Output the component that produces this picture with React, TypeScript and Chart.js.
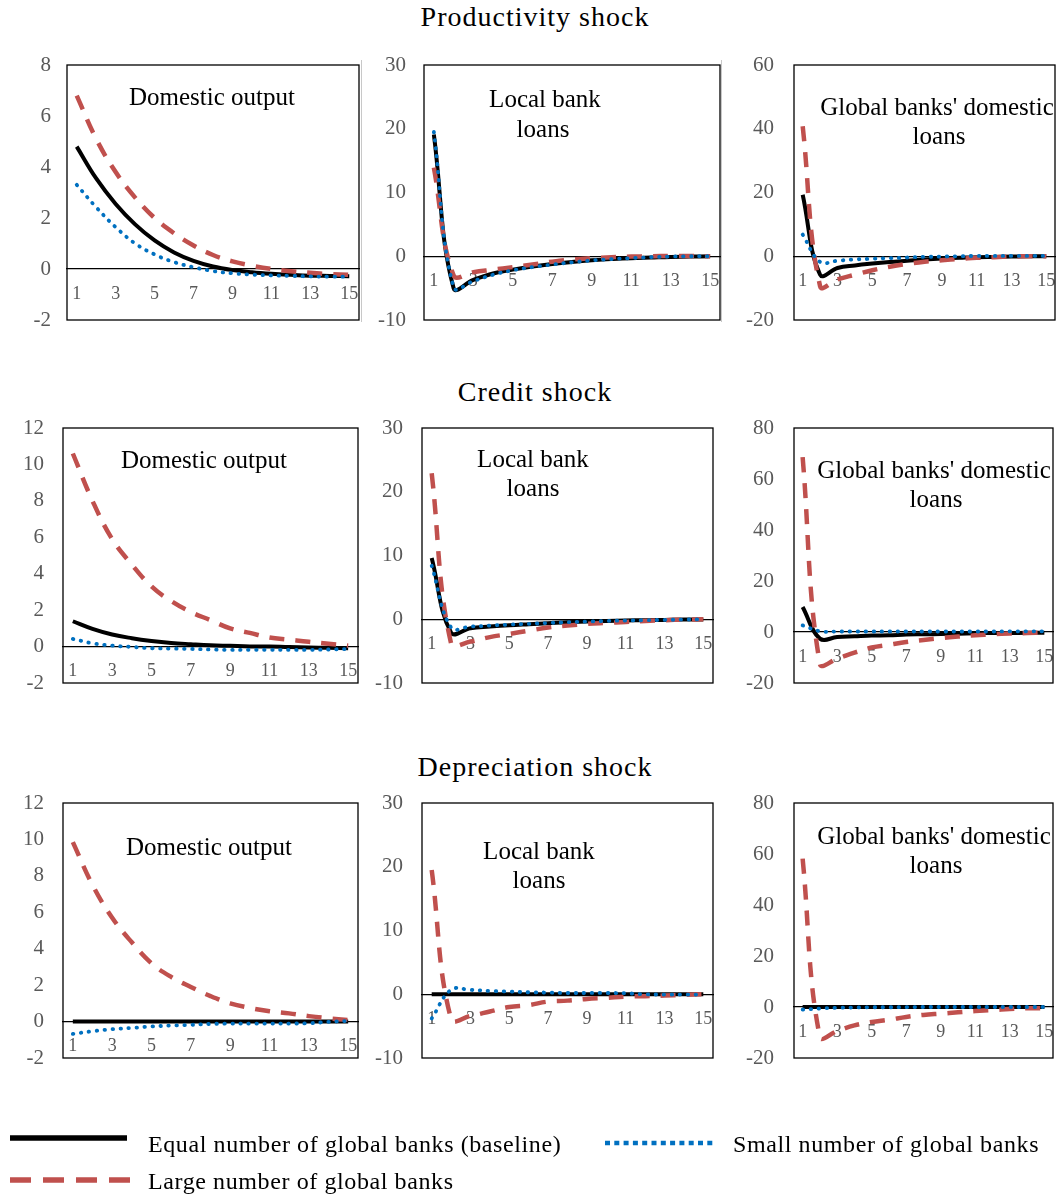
import React, { useEffect, useRef } from "react";
import { Chart, registerables } from "chart.js";

Chart.register(...registerables);

const SERIF = "'Liberation Serif', 'Times New Roman', serif";
const BLACK = "#000000";
const RED = "#C0504D";
const BLUE = "#0070C0";
const TICK_GRAY = "#595959";

const periods = ["1", "2", "3", "4", "5", "6", "7", "8", "9", "10", "11", "12", "13", "14", "15"];

const sectionTitles = ["Productivity shock", "Credit shock", "Depreciation shock"];
const panelTitles = [["Domestic output"], ["Local bank", "loans"], ["Global banks' domestic", "loans"]];
const seriesNames = [
  "Equal number of global banks (baseline)",
  "Small number of global banks",
  "Large number of global banks",
];

// Productivity shock
const prodOutputEqual = [4.8, 3.55, 2.55, 1.75, 1.12, 0.65, 0.32, 0.1, -0.04, -0.13, -0.19, -0.23, -0.26, -0.27, -0.28];
const prodOutputSmall = [3.3, 2.42, 1.64, 1.0, 0.57, 0.27, 0.07, -0.08, -0.17, -0.22, -0.25, -0.27, -0.29, -0.3, -0.3];
const prodOutputLarge = [6.8, 5.1, 3.8, 2.8, 2.0, 1.4, 0.92, 0.55, 0.3, 0.13, 0.0, -0.09, -0.15, -0.2, -0.23];

const prodLocalEqual = [19.1, -5.0, -3.7, -2.7, -2.1, -1.6, -1.2, -0.9, -0.63, -0.45, -0.3, -0.2, -0.1, -0.05, 0];
const prodLocalSmall = [19.5, -4.9, -3.9, -2.9, -2.2, -1.7, -1.3, -0.95, -0.65, -0.45, -0.3, -0.15, -0.05, 0, 0];
const prodLocalLarge = [13.9, -3.0, -2.5, -2.1, -1.7, -1.3, -0.85, -0.5, -0.3, -0.15, -0.05, 0, 0.05, 0.05, 0];

const prodGlobalEqual = [19.3, -5.8, -3.7, -2.9, -2.3, -1.8, -1.4, -1.0, -0.7, -0.5, -0.3, -0.2, -0.1, 0, 0];
const prodGlobalSmall = [6.8, -1.8, -1.4, -1.0, -0.8, -0.6, -0.4, -0.2, -0.1, 0, 0.1, 0.1, 0.1, 0.1, 0.1];
const prodGlobalLarge = [40.8, -9.4, -7.3, -5.8, -4.4, -3.3, -2.4, -1.7, -1.25, -0.8, -0.5, -0.3, -0.1, 0, 0];

// Credit shock
const credOutputEqual = [1.39, 0.97, 0.66, 0.46, 0.31, 0.2, 0.13, 0.07, 0.04, 0.01, 0, -0.03, -0.05, -0.07, -0.09];
const credOutputSmall = [0.42, 0.18, 0.05, -0.02, -0.09, -0.11, -0.13, -0.16, -0.18, -0.18, -0.18, -0.18, -0.18, -0.16, -0.13];
const credOutputLarge = [10.6, 8.0, 5.9, 4.5, 3.3, 2.5, 1.9, 1.45, 1.0, 0.75, 0.5, 0.38, 0.26, 0.16, 0.05];

const credLocalEqual = [9.6, -2.1, -1.4, -1.15, -0.94, -0.78, -0.63, -0.47, -0.37, -0.27, -0.2, -0.15, -0.1, -0.05, -0.05];
const credLocalSmall = [8.4, -1.3, -1.15, -1.0, -0.84, -0.73, -0.58, -0.47, -0.37, -0.27, -0.2, -0.15, -0.1, -0.05, 0];
const credLocalLarge = [22.9, -3.8, -3.5, -2.8, -2.3, -1.8, -1.3, -1.0, -0.73, -0.57, -0.42, -0.26, -0.15, -0.05, 0];

const credGlobalEqual = [9.8, -2.6, -2.0, -1.7, -1.4, -1.3, -1.0, -0.9, -0.8, -0.65, -0.5, -0.4, -0.4, -0.3, -0.3];
const credGlobalSmall = [2.6, 0.3, 0.2, 0.2, 0.2, 0.2, 0.2, 0.2, 0.2, 0.2, 0.2, 0.2, 0.25, 0.25, 0.25];
const credGlobalLarge = [68.6, -12.5, -10.5, -8.1, -6.1, -5.0, -3.9, -3.1, -2.4, -1.8, -1.3, -0.9, -0.6, -0.4, -0.15];

// Depreciation shock
const deprOutputEqual = [0, 0, 0, 0, 0, 0, 0, 0, 0, 0, 0, 0, 0, 0, 0];
const deprOutputSmall = [-0.68, -0.53, -0.42, -0.35, -0.27, -0.22, -0.18, -0.13, -0.11, -0.11, -0.11, -0.11, -0.09, -0.02, 0.04];
const deprOutputLarge = [9.85, 7.5, 5.7, 4.35, 3.2, 2.45, 1.9, 1.4, 1.0, 0.75, 0.57, 0.45, 0.3, 0.18, 0.09];

const deprLocalEqual = [0, 0, 0, 0, 0, 0, 0, 0, 0, 0, 0, 0, 0, 0, 0];
const deprLocalSmall = [-3.8, 0.7, 0.68, 0.52, 0.42, 0.31, 0.26, 0.2, 0.2, 0.2, 0.16, 0.0, -0.05, -0.05, -0.05];
const deprLocalLarge = [19.5, -3.9, -3.4, -2.7, -2.0, -1.7, -1.15, -1.0, -0.73, -0.57, -0.37, -0.3, -0.2, -0.1, 0];

const deprGlobalEqual = [0, 0, 0, 0, 0, 0, 0, 0, 0, 0, 0, 0, 0, 0, 0];
const deprGlobalSmall = [-1.0, -0.6, -0.3, -0.2, -0.1, -0.1, -0.05, 0, 0, 0, 0, 0, 0, 0, 0];
const deprGlobalLarge = [58.2, -11.8, -9.4, -7.2, -5.9, -5.0, -3.9, -3.1, -2.6, -2.1, -1.6, -1.2, -0.8, -0.5, -0.5];

// Axis ranges [min, max, step]
const outputRange = [-2, 12, 2];
const prodOutputRange = [-2, 8, 2];
const localRange = [-10, 30, 10];
const prodGlobalRange = [-20, 60, 20];
const globalRange = [-20, 80, 20];

type Spec = {
  box: [number, number, number, number];
  range: number[];
  equal: number[];
  small: number[];
  large: number[];
  pad: number;
};

const panels: Spec[] = [
  { box: [67, 65, 359, 320], range: prodOutputRange, equal: prodOutputEqual, small: prodOutputSmall, large: prodOutputLarge, pad: 16 },
  { box: [424, 65, 720, 320], range: localRange, equal: prodLocalEqual, small: prodLocalSmall, large: prodLocalLarge, pad: 18 },
  { box: [794, 65, 1055, 320], range: prodGlobalRange, equal: prodGlobalEqual, small: prodGlobalSmall, large: prodGlobalLarge, pad: 20 },
  { box: [63, 428, 358, 683], range: outputRange, equal: credOutputEqual, small: credOutputSmall, large: credOutputLarge, pad: 19 },
  { box: [422, 428, 713, 683], range: localRange, equal: credLocalEqual, small: credLocalSmall, large: credLocalLarge, pad: 19 },
  { box: [794, 428, 1053, 683], range: globalRange, equal: credGlobalEqual, small: credGlobalSmall, large: credGlobalLarge, pad: 20 },
  { box: [63, 803, 358, 1058], range: outputRange, equal: deprOutputEqual, small: deprOutputSmall, large: deprOutputLarge, pad: 19 },
  { box: [422, 803, 713, 1058], range: localRange, equal: deprLocalEqual, small: deprLocalSmall, large: deprLocalLarge, pad: 19 },
  { box: [794, 803, 1053, 1058], range: globalRange, equal: deprGlobalEqual, small: deprGlobalSmall, large: deprGlobalLarge, pad: 20 },
];

const AXW = 60;
const PT = 20;
const PB = 20;
const PR = 10;

const framePlugin = {
  id: "plotFrame",
  beforeDatasetsDraw(chart: any) {
    const { ctx, chartArea } = chart;
    const { left, top, right, bottom } = chartArea;
    ctx.save();
    ctx.strokeStyle = "#000";
    ctx.lineWidth = 1.3;
    ctx.strokeRect(left, top, right - left, bottom - top);
    ctx.restore();
  },
};

function Panel({ spec }: { spec: Spec }) {
  const ref = useRef<HTMLCanvasElement>(null);
  const [l, t, r, b] = spec.box;
  const w = AXW + (r - l) + PR;
  const h = PT + (b - t) + PB;
  useEffect(() => {
    const [min, max, step] = spec.range;
    const chart = new Chart(ref.current as HTMLCanvasElement, {
      type: "line",
      data: {
        labels: periods,
        datasets: [
          {
            label: seriesNames[1],
            data: spec.small,
            borderColor: BLUE,
            borderWidth: 3.8,
            borderDash: [0.5, 7.5],
            borderCapStyle: "round",
            pointRadius: 0,
            tension: 0.4,
            fill: false,
          },
          {
            label: seriesNames[2],
            data: spec.large,
            borderColor: RED,
            borderWidth: 4.5,
            borderDash: [15, 11],
            borderCapStyle: "butt",
            pointRadius: 0,
            tension: 0.4,
            fill: false,
          },
          {
            label: seriesNames[0],
            data: spec.equal,
            borderColor: BLACK,
            borderWidth: 4,
            pointRadius: 0,
            tension: 0.4,
            fill: false,
          },
        ],
      },
      options: {
        responsive: false,
        animation: false,
        devicePixelRatio: 1,
        layout: { padding: { top: PT, bottom: PB, right: PR, left: 0 } },
        plugins: { legend: { display: false }, tooltip: { enabled: false }, title: { display: false } },
        scales: {
          x: {
            type: "category",
            offset: true,
            position: { y: 0 } as any,
            grid: { display: false, drawTicks: false },
            border: { display: true, color: "#000", width: 1.3 },
            ticks: {
              autoSkip: false,
              maxRotation: 0,
              padding: 14,
              color: TICK_GRAY,
              font: { family: SERIF, size: 18 },
              callback: (_v: any, i: number) => (i % 2 === 0 ? periods[i] : ""),
            },
            afterFit: (scale: any) => {
              scale.paddingLeft = 0;
              scale.paddingRight = 0;
              scale.paddingTop = 0;
              scale.paddingBottom = 0;
            },
          },
          y: {
            type: "linear",
            position: "left",
            min,
            max,
            grid: { display: false, drawTicks: false },
            border: { display: false },
            ticks: {
              stepSize: step,
              padding: spec.pad,
              color: TICK_GRAY,
              font: { family: SERIF, size: 21 },
            },
            afterFit: (scale: any) => {
              scale.width = AXW;
              scale.paddingTop = 0;
              scale.paddingBottom = 0;
              scale.paddingLeft = 0;
              scale.paddingRight = 0;
            },
          },
        },
      },
      plugins: [framePlugin],
    } as any);
    return () => chart.destroy();
  }, []);
  return (
    <canvas
      ref={ref}
      width={w}
      height={h}
      style={{ position: "absolute", left: l - AXW, top: t - PT, width: w, height: h }}
    />
  );
}

function Label({
  text,
  x,
  baseline,
  size,
  center = true,
  spacing = 0,
}: {
  text: string;
  x: number;
  baseline: number;
  size: number;
  center?: boolean;
  spacing?: number;
}) {
  const lh = Math.round(size * 1.2);
  const top = baseline - ((lh - 1.107 * size) / 2 + 0.891 * size);
  return (
    <div
      style={{
        position: "absolute",
        left: x,
        top,
        transform: center ? "translateX(-50%)" : undefined,
        fontFamily: SERIF,
        fontSize: size,
        lineHeight: `${lh}px`,
        whiteSpace: "nowrap",
        letterSpacing: spacing,
        color: "#000",
      }}
    >
      {text}
    </div>
  );
}

// title anchor points: [line1 cx, line1 baseline, line2 cx, line2 baseline]
const titleAnchors = [
  [212, 105],
  [545, 107, 543, 137],
  [937, 115, 939, 144],
  [204, 468],
  [533, 467, 533, 496],
  [934, 478, 936, 507],
  [209, 855],
  [539, 859, 539, 888],
  [934, 844, 936, 873],
];
const sectionBaselines = [26, 401, 776];

export default function App() {
  return (
    <div
      style={{
        position: "absolute",
        left: 0,
        top: 0,
        width: 1063,
        height: 1198,
        background: "#fff",
        overflow: "hidden",
      }}
    >
      {/* faint chart-object borders in the top row */}
      <div style={{ position: "absolute", left: 361, top: 60, width: 1, height: 262, background: "#c8c8c8" }} />
      <div style={{ position: "absolute", left: 721, top: 60, width: 1, height: 262, background: "#c8c8c8" }} />

      {sectionTitles.map((s, i) => (
        <Label key={s} text={s} x={535} baseline={sectionBaselines[i]} size={28} spacing={1} />
      ))}

      {panels.map((p, i) => (
        <Panel key={i} spec={p} />
      ))}

      <div style={{ position: "absolute", left: 0, top: 0, width: 1059, height: 1198, overflow: "hidden" }}>
        {titleAnchors.map((a, i) => {
          const lines = panelTitles[i % 3];
          return (
            <React.Fragment key={i}>
              <Label text={lines[0]} x={a[0]} baseline={a[1]} size={25} />
              {lines[1] ? <Label text={lines[1]} x={a[2]} baseline={a[3]} size={25} /> : null}
            </React.Fragment>
          );
        })}
      </div>

      {/* legend */}
      <svg style={{ position: "absolute", left: 0, top: 1120, width: 1063, height: 78 }} width={1063} height={78}>
        <line x1={10} y1={18} x2={127} y2={18} stroke={BLACK} strokeWidth={5.5} />
        <line x1={605} y1={23} x2={715} y2={23} stroke={BLUE} strokeWidth={4.5} strokeDasharray="5 4.3" />
        <line x1={10} y1={60} x2={131} y2={60} stroke={RED} strokeWidth={5.5} strokeDasharray="21 12" />
      </svg>
      <Label text={seriesNames[0]} x={148} baseline={1153} size={24} center={false} spacing={0.6} />
      <Label text={seriesNames[1]} x={733} baseline={1153} size={24} center={false} spacing={0.6} />
      <Label text={seriesNames[2]} x={148} baseline={1190} size={24} center={false} spacing={0.6} />
    </div>
  );
}
